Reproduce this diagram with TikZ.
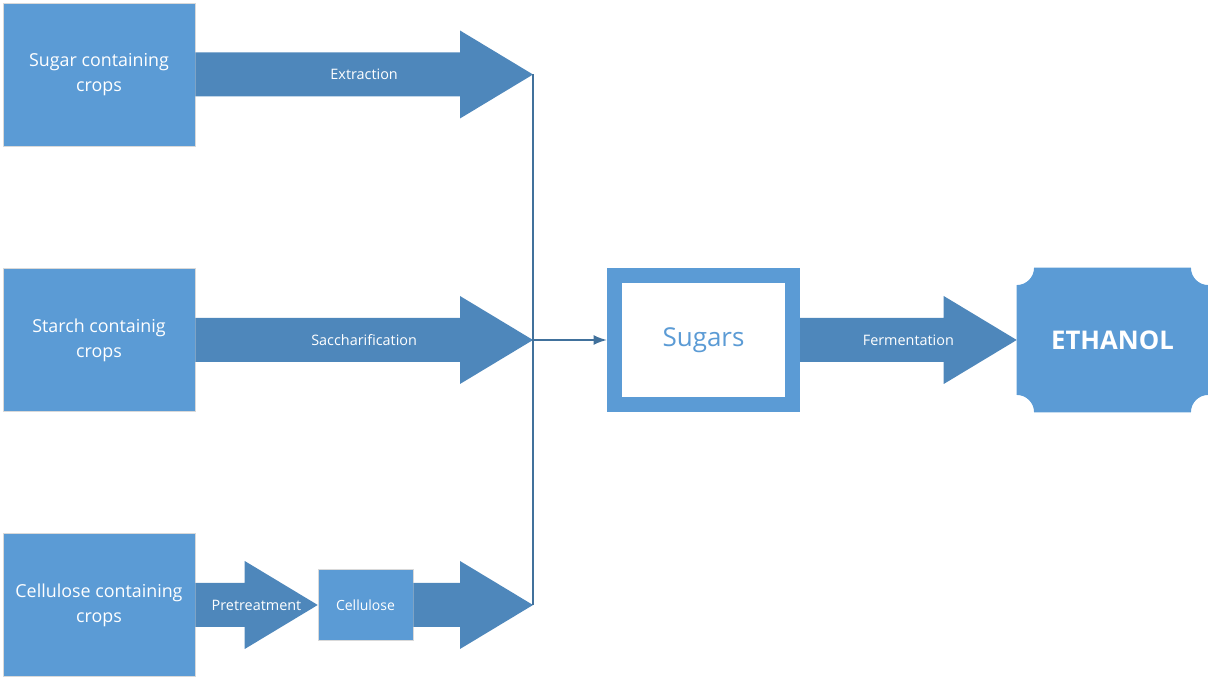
\documentclass[tikz,border=0pt]{standalone}
\usepackage{fontspec}
\setmainfont{Open Sans}
\usetikzlibrary{arrows.meta}
\usetikzlibrary{calc}
\usetikzlibrary{positioning}
\usetikzlibrary{backgrounds}

\definecolor{boxblue}{HTML}{5B9BD5}
\definecolor{arrowblue}{HTML}{4E87BB}
\definecolor{lineblue}{HTML}{41719C}

\tikzset{
  cropbox/.style={fill=boxblue,draw=gray!30,text=white,align=center,inner sep=0pt,
    minimum width=144pt,minimum height=107.25pt,font=\fontsize{13.4}{18.75}\selectfont},
  smallbox/.style={fill=boxblue,draw=gray!30,text=white,inner sep=0pt,
    minimum width=71.25pt,minimum height=53.25pt,font=\fontsize{10.5}{12}\selectfont},
  sugarbox/.style={draw=boxblue,line width=11.25pt,fill=white,text=boxblue,inner sep=0pt,
    minimum width=133.5pt,minimum height=96.75pt,font=\fontsize{19.5}{22}\selectfont},
  endbox/.style={text=white,inner sep=0pt,minimum width=143.25pt,minimum height=108pt,
    font=\bfseries\fontsize{19.3}{22}\selectfont},
  fatlabel/.style={text=white,font=\fontsize{10.8}{12}\selectfont},
  collector/.style={draw=lineblue,line width=1.5pt}
}

% big block arrow from #1 to tip #2, label #3
\newcommand\fatarrow[3]{%
  \fill[arrowblue] ($(#1)+(0,-22)$) -- ($(#2)+(-73,-22)$) -- ($(#2)+(-73,-44)$) -- (#2)
    -- ($(#2)+(-73,44)$) -- ($(#2)+(-73,22)$) -- ($(#1)+(0,22)$) -- cycle;
  \node[fatlabel] at ($(#1)!.5!(#2)$) {#3};}

\begin{document}
\begin{tikzpicture}[x=0.75pt,y=-0.75pt,>={Latex[length=10pt,width=7.5pt]}]
\useasboundingbox (0,0) rectangle (1208,680);

\node [cropbox] (sugar)  at (99,74.5) {Sugar containing\\crops};
\node [cropbox] (starch) at (99,340)  {Starch containig\\crops};
\node [cropbox] (cell)   at (99,605)  {Cellulose containing\\crops};
\node [smallbox] (cellulose) at (365.5,605) {Cellulose};

\coordinate (t1) at (533,74.5);
\coordinate (t2) at (533,340);
\coordinate (t3) at (533,605);

\node [sugarbox] (sugars)  at (703.5,340) {Sugars};
\node [endbox]   (ethanol) at (1112.5,340) {ETHANOL};

% plaque behind the ethanol text
\begin{scope}[on background layer]
\fill[boxblue] ([xshift=-13pt]ethanol.north east) arc[start angle=180,end angle=270,radius=13pt]
  -- ([yshift=13pt]ethanol.south east) arc[start angle=90,end angle=180,radius=13pt]
  -- ([xshift=13pt]ethanol.south west) arc[start angle=0,end angle=90,radius=13pt]
  -- ([yshift=-13pt]ethanol.north west) arc[start angle=270,end angle=360,radius=13pt]
  -- cycle;
\end{scope}

\fatarrow{sugar.east}{t1}{Extraction}
\fatarrow{starch.east}{t2}{Saccharification}
\fatarrow{cell.east}{cellulose.west}{Pretreatment}
\fatarrow{cellulose.east}{t3}{}
\fatarrow{sugars.east}{ethanol.west}{Fermentation}

\draw [collector] (t1) -- (t3);
\draw [collector,->] (t2) -- (sugars.west);
\end{tikzpicture}
\end{document}
